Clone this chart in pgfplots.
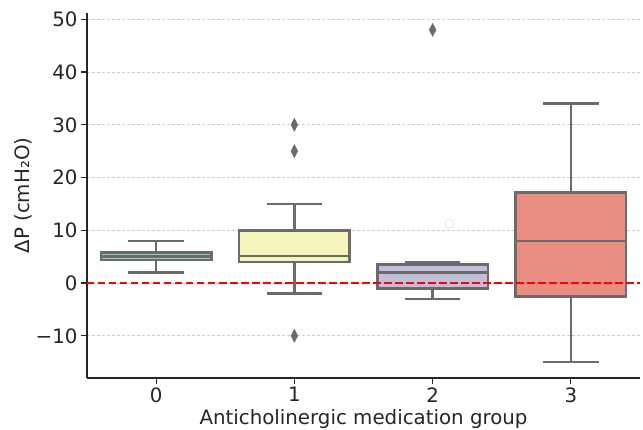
\documentclass[border=0pt]{standalone}
\usepackage{pgfplots}
\pgfplotsset{compat=1.18}
\usepgfplotslibrary{statistics}
\usepackage{fontspec}
\setmainfont{DejaVu Sans}
\definecolor{edge}{HTML}{6B6B6B}
\definecolor{cA}{HTML}{96CAC1}
\definecolor{cB}{HTML}{F5F5BC}
\definecolor{cC}{HTML}{C1BED6}
\definecolor{cD}{HTML}{EA8E83}
\definecolor{txt}{HTML}{262626}
\definecolor{gridc}{HTML}{CCCCCC}
\begin{document}
\begin{tikzpicture}
\begin{axis}[
  at={(0pt,0pt)}, anchor=south west,
  scale only axis, width=553pt, height=365pt,
  xmin=-0.5, xmax=3.5, ymin=-18, ymax=51.2,
  axis x line*=bottom, axis y line*=left,
  axis line style={txt, line width=1.2pt, -},
  xtick={0,1,2,3}, xticklabels={0,1,2,3},
  ytick={-10,0,10,20,30,40,50},
  yticklabels={−10,0,10,20,30,40,50},
  tick style={txt, line width=1.2pt},
  major tick length=6pt,
  tick align=outside,
  ymajorgrids, major grid style={gridc, dash pattern=on 3pt off 2pt, line width=0.8pt},
  ticklabel style={font=\fontsize{19.8}{23}\selectfont, text=txt},
  label style={font=\fontsize{19.8}{23}\selectfont, text=txt},
  xlabel={Anticholinergic medication group},
  ylabel={ΔP (cmH₂O)},
  ylabel shift=-3pt,
  boxplot/draw direction=y,
  boxplot/every box/.style={draw=edge, line width=2.6pt},
  boxplot/every whisker/.style={draw=edge, line width=2.6pt},
  boxplot/every median/.style={draw=edge, line width=2.6pt},
]
\addplot[boxplot prepared={lower whisker=2, lower quartile=4.4, median=5, upper quartile=5.8, upper whisker=8, draw position=0, box extend=0.8, whisker extend=0.4},
  draw=edge, fill=cA, line width=2.6pt] coordinates {};
\addplot[boxplot prepared={lower whisker=-2, lower quartile=4, median=5.1, upper quartile=10, upper whisker=15, draw position=1, box extend=0.8, whisker extend=0.4},
  draw=edge, fill=cB, line width=2.6pt, mark=diamond*, mark size=6.5pt, mark options={fill=edge, draw=edge, line width=0.4pt, xscale=0.7}] coordinates {(1,30) (1,25) (1,-10)};
\addplot[boxplot prepared={lower whisker=-3, lower quartile=-1, median=2, upper quartile=3.5, upper whisker=4, draw position=2, box extend=0.8, whisker extend=0.4},
  draw=edge, fill=cC, line width=2.6pt, mark=diamond*, mark size=6.5pt, mark options={fill=edge, draw=edge, line width=0.4pt, xscale=0.7}] coordinates {(2,48)};
\addplot[boxplot prepared={lower whisker=-15, lower quartile=-2.5, median=8, upper quartile=17.2, upper whisker=34, draw position=3, box extend=0.8, whisker extend=0.4},
  draw=edge, fill=cD, line width=2.6pt] coordinates {};
\addplot[only marks, mark=o, mark size=4.5pt, mark options={draw=black!12, line width=0.6pt}] coordinates {(2.12,11.2)};
\addplot[red, line width=2.5pt, dash pattern=on 7.5pt off 3.5pt] coordinates {(-0.5,0) (3.5,0)};
\end{axis}
\pgfresetboundingbox
\path (-87pt,-52pt) rectangle (556pt,378pt);
\end{tikzpicture}
\end{document}
